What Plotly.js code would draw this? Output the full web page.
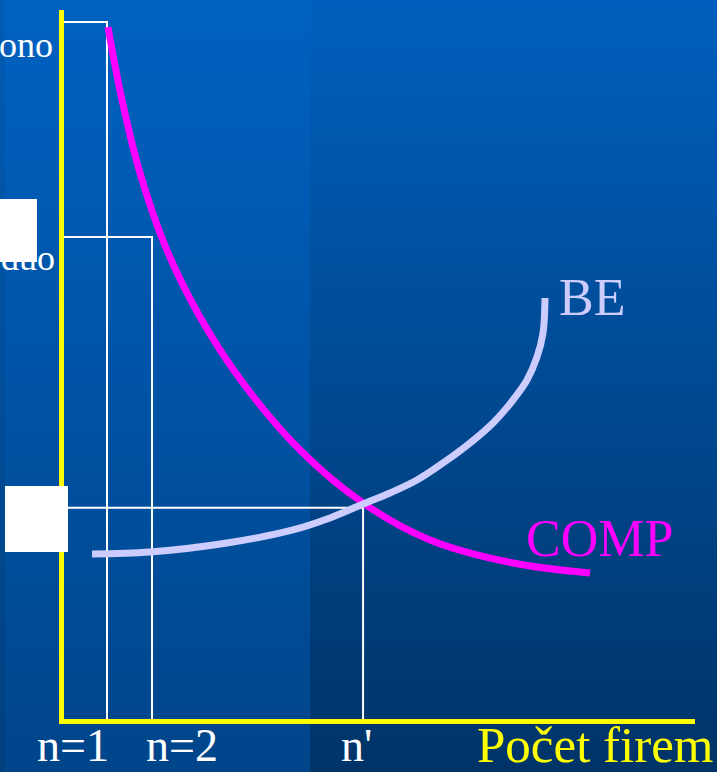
<!DOCTYPE html>
<html>
<head>
<meta charset="utf-8">
<script src="https://cdn.plot.ly/plotly-3.0.1.min.js"></script>
<style>
  html, body { margin: 0; padding: 0; width: 717px; height: 772px; overflow: hidden; }
  #bg-left { position: absolute; left: 0; top: 0; width: 310px; height: 772px;
    background: linear-gradient(to bottom, #0061c1 0%, #00458a 100%); }
  #bg-strip { position: absolute; left: 0; top: 0; width: 5px; height: 772px;
    background: linear-gradient(to bottom, #005cb6 0%, #003f7e 100%); }
  #bg-right { position: absolute; left: 310px; top: 0; width: 407px; height: 772px;
    background: linear-gradient(to bottom, #005fbd 0%, #003468 100%); }
  #chart { position: absolute; left: 0; top: 0; width: 717px; height: 772px; }
</style>
</head>
<body>
<div id="bg-left"></div>
<div id="bg-right"></div>
<div id="bg-strip"></div>
<div id="chart"></div>
<script>
// COMP curve (number of firms vs. price)
const compX = [1.022, 1.333, 1.733, 2.311, 3.067, 4.022, 5.289, 6.689, 8.178, 10.022, 11.733];
const compY = [97.60, 87.31, 77.01, 66.43, 56.70, 47.39, 37.94, 30.47, 25.25, 22.00, 20.59];
// BE curve
const beX = [0.667, 1.956, 3.667, 5.133, 5.889, 6.689, 7.289, 7.889, 8.467, 9.067, 9.578, 10.022, 10.333, 10.556, 10.689, 10.733];
const beY = [23.27, 23.55, 24.82, 26.66, 28.20, 30.32, 31.88, 33.71, 36.11, 38.93, 41.75, 44.99, 47.81, 51.06, 54.44, 59.38];
// reference levels
const nMono = 1, pMono = 98.3;
const nDuo = 2, pDuo = 68.0;
const nPrime = 6.69, pPrime = 29.8;
// labels
const xLabels = ["n=1", "n=2", "n'"];
const xLabelPos = [0.244, 2.667, 6.533];
const axisTitle = "Počet firem";
const yLabels = ["ono", "duo"];
const yLabelPos = [95.1, 65.0];

const serif = '"Liberation Serif", "Times New Roman", serif';
const white = { color: '#ffffff', width: 2 };

function step(n, p) {
  return { x: [0, n, n], y: [p, p, 0], mode: 'lines', line: white, hoverinfo: 'skip', showlegend: false, type: 'scatter' };
}

const traces = [
  step(nMono, pMono),
  step(nDuo, pDuo),
  step(nPrime, pPrime),
  { x: compX, y: compY, mode: 'lines', type: 'scatter', line: { color: '#ff00ff', width: 7, shape: 'spline', smoothing: 1 }, showlegend: false },
  { x: beX, y: beY, mode: 'lines', type: 'scatter', line: { color: '#ccccff', width: 7, shape: 'spline', smoothing: 1 }, showlegend: false }
];

function px2paper(px) { return (px - 64) / 631; }
const labelY = (719 - 745) / 709;

const annotations = [];
xLabels.forEach((t, i) => annotations.push({
  text: t, x: xLabelPos[i], y: labelY, xref: 'x', yref: 'paper', xanchor: 'center', yanchor: 'middle',
  showarrow: false, font: { family: serif, size: 46, color: '#ffffff' }
}));
annotations.push({
  text: axisTitle, x: px2paper(716), xref: 'paper', y: labelY, yref: 'paper', xanchor: 'right', yanchor: 'middle',
  showarrow: false, font: { family: serif, size: 51, color: '#ffff00' }
});
yLabels.forEach((t, i) => annotations.push({
  text: t, x: px2paper(i === 0 ? 55 : 57), xref: 'paper', y: yLabelPos[i], yref: 'y', xanchor: 'right', yanchor: 'middle',
  showarrow: false, font: { family: serif, size: 36, color: '#ffffff' }
}));
annotations.push({ text: 'BE', x: 11.78, y: 59.4, xref: 'x', yref: 'y', showarrow: false, xanchor: 'center', yanchor: 'middle',
  font: { family: serif, size: 52, color: '#ccccff' } });
annotations.push({ text: 'COMP', x: 11.94, y: 25.5, xref: 'x', yref: 'y', showarrow: false, xanchor: 'center', yanchor: 'middle',
  font: { family: serif, size: 52, color: '#ff00ff' } });
// white boxes
annotations.push({ text: ' ', x: px2paper(0), xref: 'paper', y: (719 - 199) / 7.09, yref: 'y', xanchor: 'left', yanchor: 'top',
  width: 37, height: 63, bgcolor: '#ffffff', borderpad: 0, borderwidth: 0, showarrow: false, font: { size: 2 } });
annotations.push({ text: ' ', x: px2paper(5), xref: 'paper', y: (719 - 486) / 7.09, yref: 'y', xanchor: 'left', yanchor: 'top',
  width: 63, height: 66, bgcolor: '#ffffff', borderpad: 0, borderwidth: 0, showarrow: false, font: { size: 2 } });

const layout = {
  width: 717, height: 772,
  margin: { l: 64, r: 22, t: 10, b: 53, pad: 0 },
  paper_bgcolor: 'rgba(0,0,0,0)', plot_bgcolor: 'rgba(0,0,0,0)',
  showlegend: false,
  xaxis: { range: [0.0444, 14.066], showgrid: false, zeroline: false, showticklabels: false, ticks: '',
    showline: true, linecolor: '#ffff00', linewidth: 5, fixedrange: true },
  yaxis: { range: [0, 100], showgrid: false, zeroline: false, showticklabels: false, ticks: '',
    showline: true, linecolor: '#ffff00', linewidth: 5, fixedrange: true },
  annotations: annotations
};

Plotly.newPlot('chart', traces, layout, { displayModeBar: false, staticPlot: true });
</script>
</body>
</html>
